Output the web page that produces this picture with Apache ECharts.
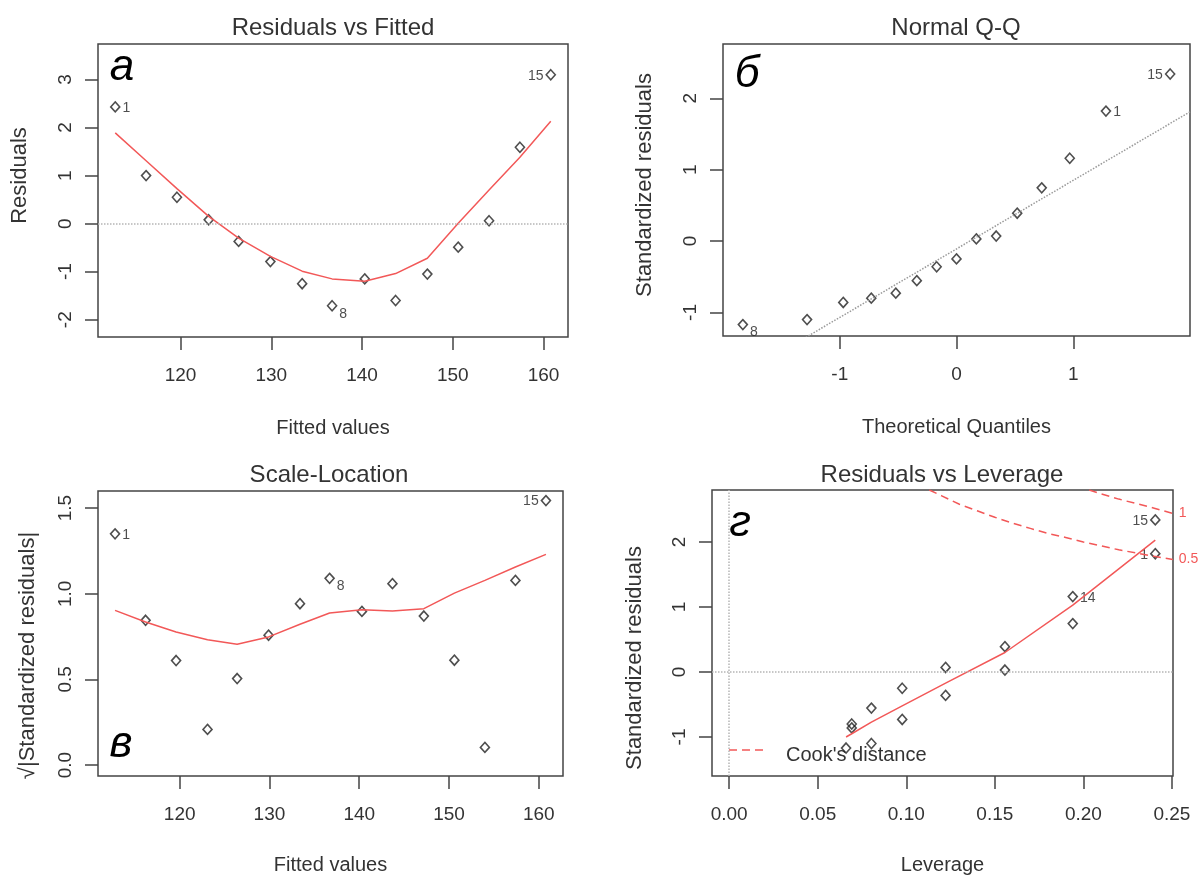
<!DOCTYPE html>
<html><head><meta charset="utf-8">
<script src="https://cdn.jsdelivr.net/npm/echarts@6/dist/echarts.min.js"></script>
<style>html,body{margin:0;padding:0;background:#fff}#c{width:1204px;height:876px}</style>
</head><body><div id="c"></div>
<script>
// ---------- data ----------
const obsIds        = [1,2,3,4,5,6,7,8,9,10,11,12,13,14,15];
const fitted        = [112.8,116.2,119.6,123.1,126.4,129.9,133.4,136.7,140.3,143.7,147.2,150.6,154.0,157.4,160.8];
const residuals     = [2.43,1.00,0.55,0.08,-0.37,-0.79,-1.25,-1.71,-1.15,-1.60,-1.05,-0.49,0.06,1.59,3.10];
const residSmooth   = [1.89,1.31,0.73,0.15,-0.30,-0.68,-0.99,-1.15,-1.20,-1.04,-0.72,0.01,0.70,1.38,2.13];
const stdResid      = [1.82,0.745,0.39,0.07,-0.25,-0.555,-0.86,-1.17,-0.80,-1.10,-0.73,-0.36,0.03,1.16,2.34];
const theoQuantiles = [-1.83,-1.28,-0.97,-0.73,-0.52,-0.34,-0.17,0.00,0.17,0.34,0.52,0.73,0.97,1.28,1.83];
const qqLineX       = [-2.0, 2.0];
const qqLineY       = [-2.03, 1.81];
const sqrtStdResid  = [1.35,0.845,0.61,0.208,0.505,0.758,0.942,1.09,0.897,1.059,0.87,0.612,0.103,1.078,1.544];
const scaleSmooth   = [0.903,0.835,0.777,0.732,0.705,0.748,0.822,0.888,0.907,0.90,0.913,1.004,1.078,1.156,1.23];
const leverage      = [0.2406,0.194,0.1557,0.1222,0.0977,0.0803,0.0692,0.066,0.0692,0.0803,0.0977,0.1222,0.1557,0.194,0.2406];
const levSmoothX    = [0.066,0.0692,0.0803,0.0977,0.1222,0.1557,0.194,0.2406];
const levSmoothY    = [-1.0,-0.95,-0.77,-0.52,-0.17,0.30,1.03,2.03];
const cookHalfH     = [0.113,0.12,0.13,0.14,0.15,0.16,0.17,0.18,0.19,0.20,0.21,0.22,0.23,0.24,0.2505];
const cookHalfR     = [2.80,2.71,2.58,2.48,2.38,2.29,2.21,2.13,2.07,2.00,1.94,1.88,1.83,1.78,1.73];
const cookOneH      = [0.2033,0.21,0.22,0.23,0.24,0.2505];
const cookOneR      = [2.80,2.74,2.66,2.59,2.52,2.44];
const residLabelIds = [1,8,15];
const levLabelIds   = [1,14,15];
const fittedTicks   = [120,130,140,150,160];
const residTicks    = [-2,-1,0,1,2,3];
const qqXTicks      = [-1,0,1];
const qqYTicks      = [-1,0,1,2];
const scaleYTicks   = [0.0,0.5,1.0,1.5];
const scaleYLabels  = ['0.0','0.5','1.0','1.5'];
const levXTicks     = [0.00,0.05,0.10,0.15,0.20,0.25];
const levXLabels    = ['0.00','0.05','0.10','0.15','0.20','0.25'];
const levYTicks     = [-1,0,1,2];

// ---------- styles ----------
const FONT = '"Liberation Sans", Arial, sans-serif';
const TXT = '#333';
const RED = '#f25858';
const labelSide = {
  resid: {1:'right', 8:'right', 15:'left'},
  lev:   {1:'left', 14:'right', 15:'left'}
};
const labelOffset = {resid: {1:[0,1], 8:[0,8], 15:[0,1]}, lev: {1:[0,1], 14:[0,2], 15:[0,1]}};

function zip(xs, ys){ return xs.map((x,i)=>[x, ys[i]]); }
function points(xs, ys, ids, shownIds, side, offs){
  return xs.map((x,i)=>{
    const id = ids[i];
    const item = {value:[x, ys[i]]};
    if (shownIds.indexOf(id) >= 0) {
      item.label = {show:true, formatter:String(id), position:side[id], distance:2,
        offset:(offs[id]||[0,0]), fontSize:14, color:'#222', fontFamily:FONT};
    }
    return item;
  });
}
function mapLabel(ticks, labels){ return v => { const k = ticks.findIndex(t=>Math.abs(t-v)<1e-9); return k>=0 ? labels[k] : ''; }; }

function xAx(grid, min, max, ticks, fmt, name, gap){
  return {gridIndex:grid, type:'value', min, max,
    axisLine:{show:false, onZero:false},
    axisTick:{show:true, length:13, customValues:ticks, lineStyle:{color:'#444', width:1.5}},
    axisLabel:{show:true, customValues:ticks, formatter:fmt, margin:29, fontSize:19, color:TXT, fontFamily:FONT},
    splitLine:{show:false},
    name, nameLocation:'middle', nameGap:gap, nameTextStyle:{fontSize:20, color:TXT, fontFamily:FONT}};
}
function yAx(grid, min, max, ticks, fmt, name, gap, pad){
  return {gridIndex:grid, type:'value', min, max,
    axisLine:{show:false, onZero:false},
    axisTick:{show:true, length:13, customValues:ticks, lineStyle:{color:'#444', width:1.5}},
    axisLabel:{show:true, customValues:ticks, formatter:fmt, rotate:90, margin:23, fontSize:19, color:TXT, fontFamily:FONT},
    splitLine:{show:false},
    name, nameLocation:'middle', nameGap:gap, nameTextStyle:{fontSize:22, color:TXT, fontFamily:FONT, padding:pad}};
}
const scatterBase = {type:'scatter', symbol:'diamond', symbolSize:[9,10], silent:true,
  itemStyle:{color:'rgba(0,0,0,0)', borderColor:'#222', borderWidth:1.6}};
const dottedMark = (data) => ({silent:true, symbol:['none','none'], label:{show:false},
  lineStyle:{type:'dotted', color:'#b5b5b5', width:1.5}, data});
const smoothLine = (xi, data) => ({type:'line', xAxisIndex:xi, yAxisIndex:xi, data, symbol:'none', silent:true,
  lineStyle:{color:RED, width:1.5}});

// Q-Q ordering
const order = obsIds.map((_,i)=>i).sort((a,b)=>stdResid[a]-stdResid[b]);
const qqY = order.map(i=>stdResid[i]);
const qqIds = order.map(i=>obsIds[i]);

const titleStyle = {fontSize:24, fontWeight:'normal', color:TXT, fontFamily:FONT};
const option = {
  animation:false,
  backgroundColor:'#fff',
  textStyle:{fontFamily:FONT},
  title:[
    {text:'Residuals vs Fitted', left:333, top:16, textAlign:'center', padding:0, textStyle:titleStyle},
    {text:'Normal Q-Q', left:956, top:16, textAlign:'center', padding:0, textStyle:titleStyle},
    {text:'Scale-Location', left:329, top:463, textAlign:'center', padding:0, textStyle:titleStyle},
    {text:'Residuals vs Leverage', left:942, top:463, textAlign:'center', padding:0, textStyle:titleStyle}
  ],
  grid:[
    {left:98, top:44, width:470, height:293, show:true, borderColor:'#444', borderWidth:1.5, backgroundColor:'transparent'},
    {left:723, top:44, width:467, height:292, show:true, borderColor:'#444', borderWidth:1.5, backgroundColor:'transparent'},
    {left:98, top:491, width:465, height:285, show:true, borderColor:'#444', borderWidth:1.5, backgroundColor:'transparent'},
    {left:712, top:490, width:461, height:286, show:true, borderColor:'#444', borderWidth:1.5, backgroundColor:'transparent'}
  ],
  xAxis:[
    xAx(0, 110.9, 162.7, fittedTicks, v=>String(v), 'Fitted values', 81),
    xAx(1, -2.0, 2.0, qqXTicks, v=>String(v), 'Theoretical Quantiles', 81),
    xAx(2, 110.9, 162.7, fittedTicks, v=>String(v), 'Fitted values', 79),
    xAx(3, -0.0097, 0.2506, levXTicks, mapLabel(levXTicks, levXLabels), 'Leverage', 79)
  ],
  yAxis:[
    yAx(0, -2.36, 3.74, residTicks, v=>String(v), 'Residuals', 67, [0,0,0,30]),
    yAx(1, -1.33, 2.76, qqYTicks, v=>String(v), 'Standardized residuals', 67, [0,0,0,10]),
    yAx(2, -0.064, 1.60, scaleYTicks, mapLabel(scaleYTicks, scaleYLabels), '√|Standardized residuals|', 59, [0,44,0,0]),
    yAx(3, -1.60, 2.80, levYTicks, v=>String(v), 'Standardized residuals', 66, [0,50,0,0])
  ],
  series:[
    // panel а
    Object.assign({}, scatterBase, {xAxisIndex:0, yAxisIndex:0,
      data:points(fitted, residuals, obsIds, residLabelIds, labelSide.resid, labelOffset.resid),
      markLine:dottedMark([{yAxis:0}])}),
    smoothLine(0, zip(fitted, residSmooth)),
    // panel б
    {type:'line', xAxisIndex:1, yAxisIndex:1, data:zip(qqLineX, qqLineY), symbol:'none', silent:true, clip:true,
      lineStyle:{color:'#9a9a9a', width:1.5, type:'dotted'}},
    Object.assign({}, scatterBase, {xAxisIndex:1, yAxisIndex:1,
      data:points(theoQuantiles, qqY, qqIds, residLabelIds, labelSide.resid, labelOffset.resid)}),
    // panel в
    Object.assign({}, scatterBase, {xAxisIndex:2, yAxisIndex:2,
      data:points(fitted, sqrtStdResid, obsIds, residLabelIds, labelSide.resid, labelOffset.resid)}),
    smoothLine(2, zip(fitted, scaleSmooth)),
    // panel г
    Object.assign({}, scatterBase, {xAxisIndex:3, yAxisIndex:3,
      data:points(leverage, stdResid, obsIds, levLabelIds, labelSide.lev, labelOffset.lev),
      markLine:dottedMark([{yAxis:0},{xAxis:0}])}),
    smoothLine(3, zip(levSmoothX, levSmoothY)),
    {type:'line', name:"Cook's distance", xAxisIndex:3, yAxisIndex:3, data:zip(cookHalfH, cookHalfR), symbol:'none', silent:true,
      lineStyle:{color:RED, width:1.5, type:[8,5]},
      endLabel:{show:true, formatter:'0.5', color:RED, fontSize:14, distance:6, fontFamily:FONT}},
    {type:'line', name:"Cook's distance", xAxisIndex:3, yAxisIndex:3, data:zip(cookOneH, cookOneR), symbol:'none', silent:true,
      lineStyle:{color:RED, width:1.5, type:[8,5]},
      endLabel:{show:true, formatter:'1', color:RED, fontSize:14, distance:6, fontFamily:FONT}}
  ],
  graphic:[
    {type:'text', x:122, y:68, silent:true, style:{text:'а', fontSize:44, fontStyle:'italic', fontFamily:FONT, fill:'#000', align:'center', verticalAlign:'middle'}},
    {type:'text', x:747, y:75, silent:true, style:{text:'б', fontSize:44, fontStyle:'italic', fontFamily:FONT, fill:'#000', align:'center', verticalAlign:'middle'}},
    {type:'text', x:121, y:745, silent:true, style:{text:'в', fontSize:44, fontStyle:'italic', fontFamily:FONT, fill:'#000', align:'center', verticalAlign:'middle'}},
    {type:'text', x:740, y:524, silent:true, style:{text:'г', fontSize:44, fontStyle:'italic', fontFamily:FONT, fill:'#000', align:'center', verticalAlign:'middle'}},
    {type:'line', silent:true, shape:{x1:729, y1:750, x2:763, y2:750}, style:{stroke:RED, lineWidth:1.5, lineDash:[8,5]}},
    {type:'text', x:786, y:755, silent:true, style:{text:"Cook's distance", fontSize:20, fontFamily:FONT, fill:TXT, align:'left', verticalAlign:'middle'}}
  ]
};
const chart = echarts.init(document.getElementById('c'), null, {renderer:'canvas'});
chart.setOption(option);
</script>
</body></html>
